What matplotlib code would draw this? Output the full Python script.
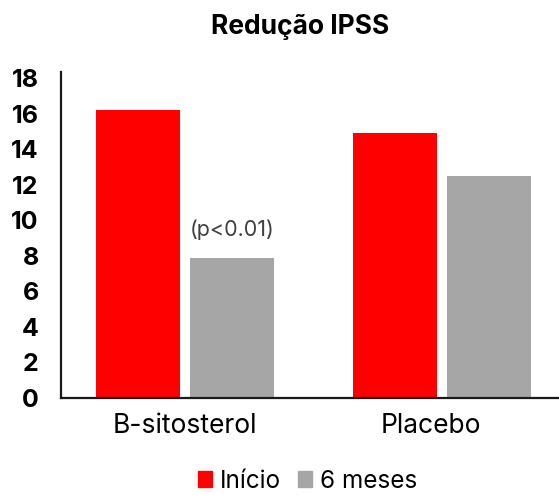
import numpy as np
import matplotlib.pyplot as plt
import matplotlib.transforms as mtransforms
from matplotlib.patches import Patch

plt.rcParams['font.family'] = ['Inter', 'DejaVu Sans']

# data
categories = ["B-sitosterol", "Placebo"]
inicio = [16.2, 14.9]
seis_meses = [7.9, 12.5]
series_names = ["Início", "6 meses"]
yticks = [0, 2, 4, 6, 8, 10, 12, 14, 16, 18]

red = "#FF0000"
gray = "#A6A6A6"

fig = plt.figure(figsize=(5.59, 4.95), dpi=100)
ax = fig.add_axes([0.109, 0.196, 0.891, 0.659])

x = np.arange(len(categories))
w = 0.327
off = 0.183
ax.bar(x - off, inicio, width=w, color=red)
ax.bar(x + off, seis_meses, width=w, color=gray)

# p-value label above the 6 month bar of the first group
ax.annotate("(p<0.01)", xy=(x[0] + off, seis_meses[0]), xytext=(0, 20),
            textcoords="offset points", ha="center", va="center",
            fontsize=15.5, color="#404040")

ax.set_xlim(-0.4825, 1.455)
ax.set_ylim(0, 18.35)
ax.set_yticks(yticks)
ax.set_yticklabels([str(t) for t in yticks], fontsize=18, fontweight="bold")
ax.set_xticks(x)
ax.set_xticklabels(categories, fontsize=19)
ax.tick_params(axis="y", length=0, pad=16)
ax.tick_params(axis="x", length=0, pad=11)

# the Placebo label sits a bit left of its group in the original
lbl = ax.get_xticklabels()[1]
lbl.set_transform(lbl.get_transform() +
                  mtransforms.ScaledTranslation(-0.11, 0, fig.dpi_scale_trans))

for s in ["top", "right"]:
    ax.spines[s].set_visible(False)
ax.spines["left"].set_linewidth(1.6)
ax.spines["bottom"].set_linewidth(1.6)
ax.spines["left"].set_color("#1a1a1a")
ax.spines["bottom"].set_color("#1a1a1a")

fig.text(0.537, 0.945, "Redução IPSS", ha="center", va="center",
         fontsize=19, fontweight="bold")

handles = [Patch(color=red, label=series_names[0]),
           Patch(color=gray, label=series_names[1])]
fig.legend(handles=handles, loc="center", bbox_to_anchor=(0.55, 0.028),
           ncol=2, frameon=False, fontsize=17.5, handlelength=0.6,
           handleheight=0.6, handletextpad=0.3, columnspacing=0.7,
           borderpad=0.1)

fig.savefig("out.png", dpi=100)
